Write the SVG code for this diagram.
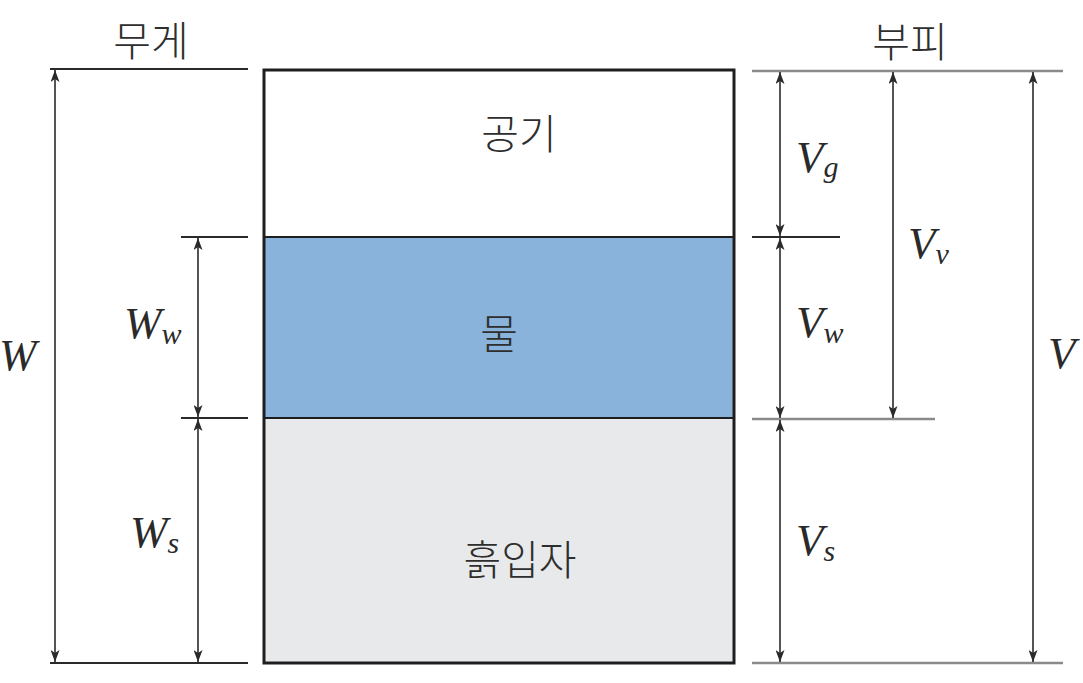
<svg xmlns="http://www.w3.org/2000/svg" width="1083" height="683" viewBox="0 0 1083 683">
<defs>
<marker id="ah" viewBox="0 0 12 9" refX="12" refY="4.5" markerWidth="12" markerHeight="9" markerUnits="userSpaceOnUse" orient="auto-start-reverse">
<path d="M0,0 L12,4.5 L0,9 L3,4.5 Z" fill="#2a2a2a"/>
</marker>
<style>
.ko{font-family:"Noto Sans CJK KR","Noto Sans",sans-serif;font-size:41px;fill:#2e2e2e;text-anchor:middle;dominant-baseline:central;font-weight:300}
.m{font-family:"Liberation Serif","DejaVu Serif",serif;font-style:italic;font-size:45px;fill:#2a2a2a}
.sub{font-size:30px}
.arr{stroke:#2a2a2a;stroke-width:1.6;fill:none;marker-start:url(#ah);marker-end:url(#ah)}
.tk{stroke:#2a2a2a;stroke-width:1.8}
.tg{stroke:#8a8a8a;stroke-width:2.6}
</style>
</defs>
<rect width="1083" height="683" fill="#ffffff"/>

<g id="air">
<rect x="264" y="70" width="470" height="167" fill="#ffffff"/>
<text class="ko" x="519" y="131">공기</text>
</g>
<g id="water">
<rect x="264" y="237" width="470" height="181" fill="#8ab3dc"/>
<text class="ko" x="499" y="331">물</text>
</g>
<g id="soil">
<rect x="264" y="418" width="470" height="245" fill="#e8e9eb"/>
<text class="ko" x="520" y="557">흙입자</text>
</g>
<g id="box">
<rect x="264" y="70" width="470" height="593" fill="none" stroke="#1e1e1e" stroke-width="3"/>
<line x1="264" y1="237" x2="734" y2="237" stroke="#1e1e1e" stroke-width="1.8"/>
<line x1="264" y1="418" x2="734" y2="418" stroke="#1e1e1e" stroke-width="1.8"/>
</g>

<g id="headers">
<text class="ko" x="151" y="38">무게</text>
<text class="ko" x="910" y="39">부피</text>
</g>

<g id="connectors">
<line class="tk" x1="50" y1="69" x2="248" y2="69"/>
<line class="tk" x1="181" y1="237" x2="248" y2="237"/>
<line class="tk" x1="181" y1="418" x2="248" y2="418"/>
<line class="tk" x1="50" y1="663" x2="248" y2="663"/>
<line class="arr" x1="55" y1="70" x2="55" y2="662"/>
<line class="arr" x1="198" y1="238" x2="198" y2="417"/>
<line class="arr" x1="198" y1="419" x2="198" y2="662"/>

<line class="tg" x1="752" y1="71" x2="1063" y2="71"/>
<line class="tk" x1="752" y1="237" x2="840" y2="237"/>
<line class="tg" x1="752" y1="419" x2="935" y2="419"/>
<line class="tg" x1="752" y1="663" x2="1063" y2="663"/>
<line class="arr" x1="780" y1="72" x2="780" y2="236"/>
<line class="arr" x1="780" y1="238" x2="780" y2="418"/>
<line class="arr" x1="780" y1="420" x2="780" y2="662"/>
<line class="arr" x1="893" y1="72" x2="893" y2="418"/>
<line class="arr" x1="1033" y1="72" x2="1033" y2="662"/>
</g>

<g id="labels">
<text class="m" x="-1" y="370">W</text>
<text class="m" x="124" y="338">W<tspan class="sub" dy="6">w</tspan></text>
<text class="m" x="130" y="547">W<tspan class="sub" dy="6">s</tspan></text>
<text class="m" x="796" y="172">V<tspan class="sub" dy="5">g</tspan></text>
<text class="m" x="796" y="337">V<tspan class="sub" dy="6">w</tspan></text>
<text class="m" x="796" y="555">V<tspan class="sub" dy="6">s</tspan></text>
<text class="m" x="908" y="258">V<tspan class="sub" dy="6">v</tspan></text>
<text class="m" x="1048" y="368">V</text>
</g>
</svg>
